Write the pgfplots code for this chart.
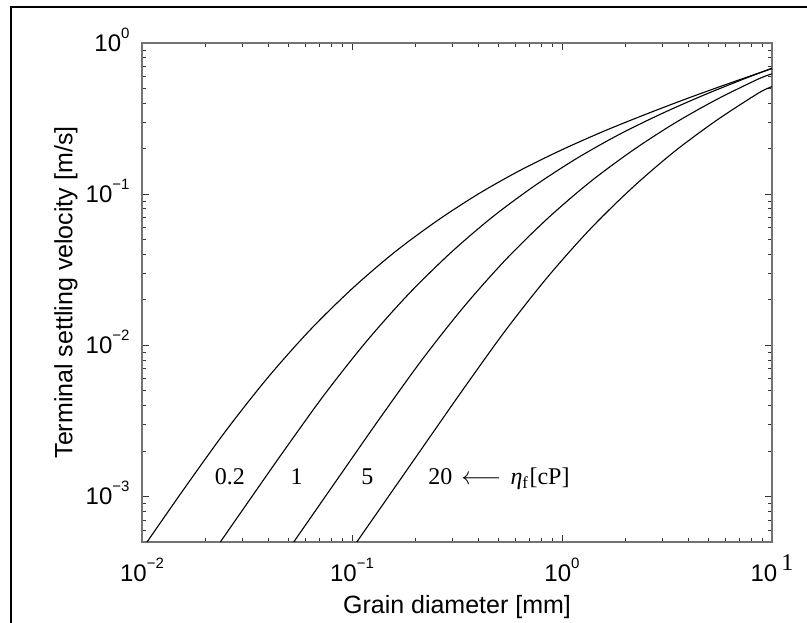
\documentclass[border=0pt]{standalone}
\usepackage{fontspec}
\setmainfont{Liberation Sans}
\newfontfamily\serif{Liberation Serif}
\usepackage{pgfplots}
\pgfplotsset{compat=1.18}

% tick label with raised exponent, MATLAB look
\newcommand{\tl}[1]{10\raisebox{13pt}{\fontsize{15}{15}\selectfont #1}}

\begin{document}
\begin{tikzpicture}
\begin{axis}[
  at={(0pt,0pt)}, anchor=south west,
  scale only axis, width=630pt, height=499pt,
  xmode=log, ymode=log,
  xmin=0.01, xmax=10, ymin=5e-4, ymax=1,
  xtick={0.01,0.1,1,10},
  xticklabels={\tl{−2},\tl{−1},\tl{0},{10\,\raisebox{11pt}{\serif 1}}},
  ytick={0.001,0.01,0.1,1},
  yticklabels={\tl{−3},\tl{−2},\tl{−1},\tl{0}},
  minor xtick={0.02,0.03,0.04,0.05,0.06,0.07,0.08,0.09,0.2,0.3,0.4,0.5,0.6,0.7,0.8,0.9,2,3,4,5,6,7,8,9},
  minor ytick={0.0005,0.0006,0.0007,0.0008,0.0009,0.002,0.003,0.004,0.005,0.006,0.007,0.008,0.009,0.02,0.03,0.04,0.05,0.06,0.07,0.08,0.09,0.2,0.3,0.4,0.5,0.6,0.7,0.8,0.9},
  major tick length=7pt, minor tick length=4pt,
  tick style={black!80, line width=0.8pt},
  axis line style={draw=black!55, line width=1.5pt},
  xticklabel style={font=\fontsize{24}{24}\selectfont, anchor=base, yshift=-39pt},
  yticklabel style={font=\fontsize{24}{24}\selectfont, anchor=base east, yshift=-8.5pt, xshift=-9pt},
  xlabel={Grain diameter [mm]},
  ylabel={Terminal settling velocity [m/s]},
  xlabel style={font=\fontsize{25}{25}\selectfont, at={(axis description cs:0.5,-0.130)}, anchor=center},
  ylabel style={font=\fontsize{25}{25}\selectfont, at={(axis description cs:-0.1206,0.5)}, anchor=center},
  no markers,
  every axis plot post/.append style={black, line width=1.1pt},
]
% eta_f = 0.2 cP
\addplot[smooth] coordinates {
  (0.01057,0.000500) (0.01585,0.001122) (0.02512,0.002729) (0.03981,0.006138)
  (0.06310,0.01262) (0.1,0.02366) (0.1585,0.04102) (0.2512,0.06592)
  (0.3981,0.1000) (0.6310,0.1436) (1,0.1968) (1.585,0.2612)
  (2.512,0.3381) (3.981,0.4315) (6.310,0.5433) (10,0.6776)
};
% eta_f = 1 cP
\addplot[smooth] coordinates {
  (0.02360,0.000500) (0.03091,0.000857) (0.04635,0.001919) (0.07345,0.004667)
  (0.1164,0.01050) (0.1845,0.02158) (0.2924,0.04046) (0.4635,0.07014)
  (0.7345,0.1127) (1.164,0.1710) (1.845,0.2456) (2.924,0.3365)
  (4.635,0.4467) (7.345,0.5782) (10,0.6808)
};
% eta_f = 5 cP
\addplot[smooth] coordinates {
  (0.05278,0.000500) (0.09038,0.001465) (0.1355,0.003281) (0.2148,0.007980)
  (0.3404,0.01795) (0.5396,0.03690) (0.8551,0.06918) (1.3553,0.1199)
  (2.148,0.1928) (3.404,0.2924) (5.396,0.4199) (8.551,0.5754) (10,0.625)
};
% eta_f = 20 cP
\addplot[smooth] coordinates {
  (0.1054,0.000500) (0.2277,0.002326) (0.3414,0.005208) (0.5411,0.01267)
  (0.8575,0.02849) (1.3592,0.05858) (2.154,0.1098) (3.414,0.1904)
  (5.411,0.3060) (8.575,0.4642) (10,0.515)
};
\begin{scope}[every node/.style={font=\serif\fontsize{24}{24}\selectfont, inner sep=0pt}]
\node[anchor=base] at (axis cs:0.02624,0.001193) {0.2};
\node[anchor=base] at (axis cs:0.05453,0.001193) {1};
\node[anchor=base] at (axis cs:0.1185,0.001193) {5};
\node[anchor=base west] at (axis cs:0.2308,0.001193)
  {20\hspace{9pt}$\longleftarrow$\hspace{9pt}\textit{η}\textsubscript{f}\hspace{1pt}[cP]};
\end{scope}
\end{axis}
\draw[line width=2pt] (-131pt,-81pt) -- (-131pt,535pt) -- (665pt,535pt);
\pgfresetboundingbox
\path[use as bounding box] (-142pt,-81pt) rectangle (665pt,542pt);
\end{tikzpicture}
\end{document}
